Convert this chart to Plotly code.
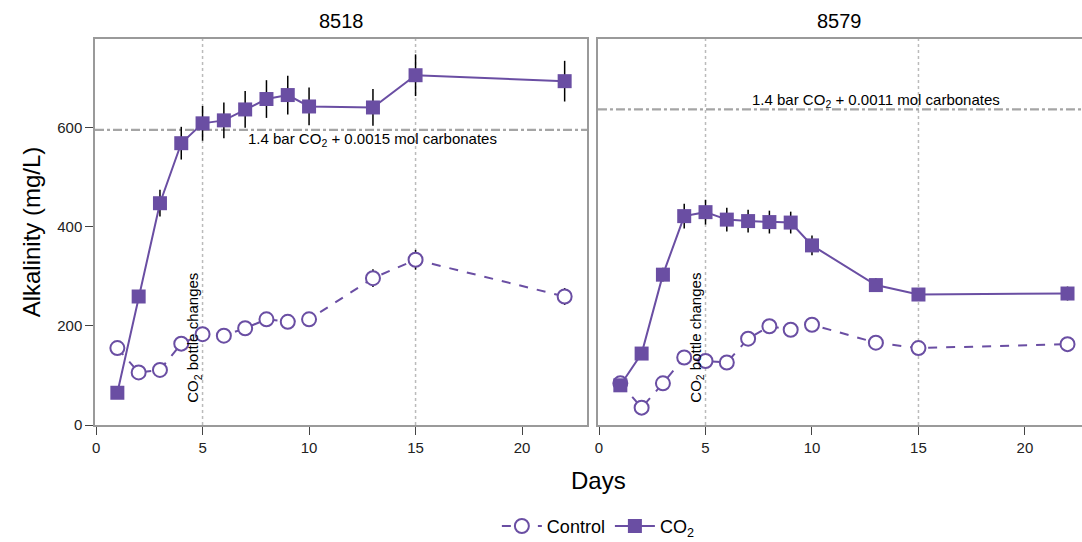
import plotly.graph_objects as go

# ---- data ----
days = [1, 2, 3, 4, 5, 6, 7, 8, 9, 10, 13, 15, 22]

# Panel 8518
co2_8518 = [65, 259, 447, 568, 608, 614, 636, 657, 665, 642, 640, 705, 693]
co2_8518_err = [8, 10, 27, 33, 35, 36, 37, 38, 39, 38, 37, 42, 41]
ctrl_8518 = [155, 106, 111, 164, 183, 180, 195, 213, 208, 213, 296, 333, 259]
ctrl_8518_err = [5, 5, 5, 6, 6, 5, 5, 6, 5, 5, 18, 20, 17]

# Panel 8579
co2_8579 = [80, 144, 303, 421, 429, 414, 411, 409, 408, 362, 282, 263, 265]
co2_8579_err = [6, 8, 14, 25, 25, 24, 23, 23, 22, 20, 14, 10, 14]
ctrl_8579 = [84, 35, 84, 136, 129, 126, 174, 199, 192, 202, 166, 155, 163]
ctrl_8579_err = [4, 4, 5, 5, 5, 5, 5, 5, 5, 5, 5, 5, 5]

panel_titles = ["8518", "8579"]
ref_levels = [595, 636]
ref_labels = ["1.4 bar CO<sub>2</sub> + 0.0015 mol carbonates",
              "1.4 bar CO<sub>2</sub> + 0.0011 mol carbonates"]
vlines = [5, 15]
x_ticks = [0, 5, 10, 15, 20]
y_ticks = [0, 200, 400, 600]

PURPLE = "#6a4ea3"
GRAY_FRAME = "#9a9a9a"
FONT = "Liberation Sans, Arial, sans-serif"

fig = go.Figure()

panels = [
    ("x", "y", co2_8518, co2_8518_err, ctrl_8518, ctrl_8518_err),
    ("x2", "y2", co2_8579, co2_8579_err, ctrl_8579, ctrl_8579_err),
]

for i, (xa, ya, co2, co2e, ctl, ctle) in enumerate(panels):
    fig.add_trace(go.Scatter(
        x=days, y=ctl, xaxis=xa, yaxis=ya, mode="lines+markers",
        name="Control", legendgroup="ctl", showlegend=(i == 0),
        line=dict(color=PURPLE, width=2, dash="dash"),
        marker=dict(symbol="circle", size=14, color="white",
                    line=dict(color=PURPLE, width=2)),
        error_y=dict(type="data", array=ctle, color="black", width=0, thickness=1.5),
    ))
    fig.add_trace(go.Scatter(
        x=days, y=co2, xaxis=xa, yaxis=ya, mode="lines+markers",
        name="CO<sub>2</sub>", legendgroup="co2", showlegend=(i == 0),
        line=dict(color=PURPLE, width=2),
        marker=dict(symbol="square", size=14, color=PURPLE,
                    line=dict(color=PURPLE, width=0)),
        error_y=dict(type="data", array=co2e, color="black", width=0, thickness=1.5),
    ))

shapes = []
annotations = []
for i, (xa, ya) in enumerate([("x", "y"), ("x2", "y2")]):
    xd = xa + " domain"
    for v in vlines:
        shapes.append(dict(type="line", xref=xa, yref=ya + " domain",
                           x0=v, x1=v, y0=0, y1=1,
                           line=dict(color="#bbbbbb", width=1.5, dash="dot"),
                           layer="below"))
    shapes.append(dict(type="line", xref=xd, yref=ya, x0=0, x1=1,
                       y0=ref_levels[i], y1=ref_levels[i],
                       line=dict(color="#a5a5a5", width=2.2, dash="dashdot"),
                       layer="below"))
    annotations.append(dict(
        x=13, y=ref_levels[i], xref=xa, yref=ya, text=ref_labels[i],
        showarrow=False, font=dict(size=15, color="black", family=FONT),
        yanchor="top" if i == 0 else "bottom", yshift=2 if i == 0 else -3))
    annotations.append(dict(
        x=5, y=176, xref=xa, yref=ya, text="CO<sub>2</sub> bottle changes",
        textangle=-90, showarrow=False, xanchor="right", yanchor="middle",
        xshift=3, font=dict(size=15, color="black", family=FONT)))
    annotations.append(dict(
        x=0.5, y=1, xref=xd, yref="paper", text=panel_titles[i],
        showarrow=False, yanchor="bottom", yshift=5,
        font=dict(size=20, color="black", family=FONT)))

annotations.append(dict(
    x=0.51, y=-0.145, xref="paper", yref="paper", text="Days", showarrow=False,
    yanchor="middle", font=dict(size=24, color="black", family=FONT)))

axis_common = dict(showgrid=False, zeroline=False, showline=True, mirror=True,
                   linecolor=GRAY_FRAME, linewidth=1.5, automargin=False,
                   ticks="outside", ticklen=8, tickwidth=1.2, tickcolor="#444",
                   tickfont=dict(size=15, color="#222", family=FONT))

fig.update_layout(
    width=1082, height=542,
    margin=dict(l=95, r=0, t=39, b=117),
    paper_bgcolor="white", plot_bgcolor="white",
    font=dict(family=FONT, color="black"),
    xaxis=dict(domain=[0, 0.4985], range=[-0.05, 23.05], tickvals=x_ticks,
               anchor="y", **axis_common),
    xaxis2=dict(domain=[0.5096, 1.0], range=[-0.05, 22.68], tickvals=x_ticks,
                anchor="y2", **axis_common),
    yaxis=dict(domain=[0, 1], range=[0, 778], tickvals=y_ticks, anchor="x",
               title=dict(text="Alkalinity (mg/L)", standoff=10,
                          font=dict(size=24, color="black", family=FONT)),
               **axis_common),
    yaxis2=dict(domain=[0, 1], range=[0, 778], tickvals=y_ticks, anchor="x2",
                showticklabels=False,
                **{**axis_common, "ticks": ""}),
    shapes=shapes,
    annotations=annotations,
    legend=dict(orientation="h", x=0.51, xanchor="center",
                yref="container", y=0.029, yanchor="middle",
                font=dict(size=18, color="black", family=FONT),
                itemwidth=40, bgcolor="rgba(0,0,0,0)"),
    showlegend=True,
)

fig.write_html("out.html", config={"displayModeBar": False},
               post_script="document.body.style.margin='0';document.body.style.overflow='hidden';")
